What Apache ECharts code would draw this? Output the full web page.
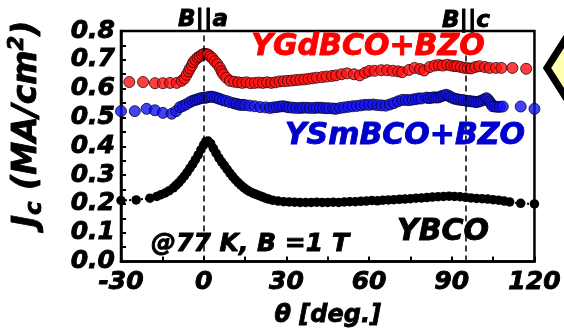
<!DOCTYPE html>
<html>
<head>
<meta charset="utf-8">
<script src="https://cdn.jsdelivr.net/npm/echarts@6/dist/echarts.min.js"></script>
<style>
  html, body { margin: 0; padding: 0; background: #fff; }
  #main { width: 564px; height: 333px; }
</style>
</head>
<body>
<div id="main"></div>
<script>
// angle (deg) and Jc (MA/cm2)
var thetaRed = [-27, -22, -17.7, -14.8, -12.2, -9.8, -8, -7, -6.2, -5.5, -5, -4.3, -3.8, -3, -2.2, -1.4, -0.6, 0.2, 1, 1.6,
    2.4, 3.2, 4, 5, 5.9, 6.5, 7.1, 8.2, 9.5, 11, 12.5, 14, 15.5, 17, 18.5, 20, 21.5, 23, 24.5, 26,
    27.5, 29, 30.5, 32, 33.5, 35, 36.5, 38, 39.5, 41, 43, 44.6, 46.5, 48, 50, 52, 54.5, 56.6, 58.5, 60,
    62, 64.4, 66.5, 68.6, 70.5, 72, 74.5, 76.5, 78.5, 80, 82, 83.8, 85.3, 86.7, 88.3, 89.8, 91, 92, 93.3, 94.6,
    95.8, 97, 98.5, 100, 102, 103.7, 106, 108, 112, 117];
var jcRed = [0.623, 0.623, 0.619, 0.619, 0.62, 0.62, 0.627, 0.635, 0.648, 0.66, 0.67, 0.68, 0.692, 0.70, 0.708, 0.712, 0.718, 0.721, 0.72, 0.718,
    0.712, 0.705, 0.695, 0.685, 0.672, 0.66, 0.65, 0.638, 0.627, 0.624, 0.622, 0.62, 0.622, 0.619, 0.62, 0.621, 0.62, 0.622, 0.62, 0.622,
    0.625, 0.626, 0.627, 0.628, 0.63, 0.631, 0.632, 0.634, 0.636, 0.638, 0.64, 0.642, 0.644, 0.646, 0.65, 0.653, 0.65, 0.646, 0.655, 0.661,
    0.662, 0.664, 0.664, 0.662, 0.66, 0.657, 0.665, 0.672, 0.668, 0.663, 0.675, 0.68, 0.682, 0.68, 0.683, 0.68, 0.678, 0.678, 0.675, 0.672,
    0.671, 0.67, 0.675, 0.678, 0.675, 0.672, 0.672, 0.672, 0.672, 0.669];

var thetaBlue = [-30, -25, -20.7, -17.7, -14.8, -11.6, -10, -8.6, -7.5, -6.3, -5, -4, -3, -2.2, -1.4, -0.5, 0.5, 1.3, 2.2, 3,
    4, 5, 5.9, 7, 8.2, 9.5, 11, 12, 13, 14, 15, 16.7, 18.5, 20.5, 22.5, 24, 25.3, 26.5, 27.7, 28.8,
    30, 31, 32.3, 33.6, 35, 36, 37.3, 38.5, 40, 41, 42.2, 43.3, 44.5, 45.5, 47, 48, 49.5, 51, 52.5, 54,
    55.5, 57, 58.5, 60, 61.5, 63, 64.5, 66, 67.5, 69, 70.5, 72, 73.3, 74.5, 75.8, 77, 78, 79, 80.8, 81.6,
    82.5, 83.5, 84.4, 85.3, 86.2, 87.1, 88, 88.9, 89.8, 90.7, 91.6, 92.5, 93.4, 94.3, 95.3, 96.2, 97, 98, 98.9, 99.8,
    100.7, 101.6, 102.5, 103.1, 103.7, 104.3, 104.8, 105.6, 106.5, 107.5, 108.5, 115, 120];
var jcBlue = [0.522, 0.522, 0.53, 0.525, 0.516, 0.513, 0.522, 0.536, 0.54, 0.546, 0.553, 0.558, 0.561, 0.563, 0.566, 0.568, 0.568, 0.57, 0.572, 0.572,
    0.57, 0.567, 0.564, 0.56, 0.557, 0.553, 0.549, 0.547, 0.544, 0.544, 0.543, 0.541, 0.539, 0.536, 0.535, 0.533, 0.535, 0.536, 0.538, 0.539,
    0.537, 0.535, 0.534, 0.533, 0.533, 0.534, 0.534, 0.533, 0.533, 0.534, 0.534, 0.533, 0.532, 0.532, 0.531, 0.53, 0.533, 0.535, 0.537, 0.539,
    0.54, 0.542, 0.544, 0.544, 0.545, 0.543, 0.542, 0.541, 0.545, 0.55, 0.556, 0.561, 0.561, 0.56, 0.562, 0.564, 0.566, 0.566, 0.569, 0.567,
    0.568, 0.57, 0.569, 0.57, 0.574, 0.576, 0.579, 0.575, 0.57, 0.566, 0.564, 0.562, 0.561, 0.56, 0.558, 0.557, 0.556, 0.555, 0.553, 0.555,
    0.558, 0.562, 0.567, 0.563, 0.555, 0.547, 0.539, 0.538, 0.537, 0.537, 0.538, 0.538, 0.53];

var thetaYbco = [-30, -24.5, -19.5, -17, -15.5, -14, -12.5, -11, -10, -9, -8, -7, -6, -5, -4, -3, -2, -1, 0, 0.8,
    1.6, 2.5, 3.5, 4.5, 5.5, 6.5, 7.5, 8.5, 9.5, 10.5, 11.5, 12.5, 13.5, 14.5, 15.5, 16.5, 17.5, 18.5, 19.5, 20.5,
    21.5, 22.5, 23.5, 25, 27, 29, 31, 33, 35, 37, 39, 41, 43, 45, 47, 49, 51, 53, 55, 57,
    59, 61, 63, 65, 67, 69, 71, 73, 75, 77, 79, 81, 83, 85, 87, 89, 91, 93, 95, 97,
    99, 101, 103, 105, 107, 109, 111, 115, 120];
var jcYbco = [0.212, 0.214, 0.22, 0.226, 0.232, 0.238, 0.246, 0.256, 0.265, 0.274, 0.285, 0.297, 0.31, 0.324, 0.338, 0.354, 0.37, 0.388, 0.405, 0.417,
    0.418, 0.41, 0.393, 0.376, 0.36, 0.346, 0.333, 0.32, 0.307, 0.295, 0.284, 0.274, 0.265, 0.257, 0.25, 0.244, 0.239, 0.235, 0.231, 0.228,
    0.224, 0.22, 0.217, 0.213, 0.21, 0.208, 0.207, 0.206, 0.205, 0.205, 0.205, 0.206, 0.205, 0.205, 0.206, 0.205, 0.207, 0.208, 0.208, 0.209,
    0.21, 0.212, 0.211, 0.213, 0.214, 0.215, 0.216, 0.217, 0.218, 0.22, 0.221, 0.222, 0.224, 0.225, 0.226, 0.227, 0.226, 0.225, 0.223, 0.221,
    0.219, 0.218, 0.217, 0.215, 0.213, 0.21, 0.207, 0.202, 0.2];

var fieldLines = [0, 95];   // B||a and B||c

function pairs(xs, ys) {
    return xs.map(function (x, i) { return [x, ys[i]]; });
}

var font = 'DejaVu Sans';
// a thin outline in the text colour makes the bold face look heavier, closer to the original
function label(text, x, y, size, color) {
    var c = color || '#000';
    return {
        type: 'text', x: x, y: y, z: 10,
        style: {
            text: text, fill: c, stroke: c, lineWidth: 0.9,
            font: 'italic bold ' + size + 'px "' + font + '"',
            textAlign: 'center', textVerticalAlign: 'middle',
            align: 'center', verticalAlign: 'middle'
        }
    };
}
function rich(size, lh, va) {
    var s = { fontFamily: font, fontWeight: 'bold', fontStyle: 'italic', fontSize: size, lineHeight: lh };
    if (va) s.verticalAlign = va;
    return s;
}
var tickFont = {
    fontFamily: font, fontWeight: 'bold', fontStyle: 'italic', fontSize: 25, color: '#000',
    textBorderColor: '#000', textBorderWidth: 0.9
};

var chart = echarts.init(document.getElementById('main'), null, { renderer: 'canvas' });

var option = {
    animation: false,
    backgroundColor: '#fff',
    grid: {
        left: 121, right: 29, top: 31, bottom: 68,
        show: true, borderColor: '#000', borderWidth: 2.5, backgroundColor: 'transparent'
    },
    xAxis: {
        type: 'value', min: -30, max: 120, interval: 30,
        name: 'θ [deg.]', nameLocation: 'middle', nameGap: 42,
        nameTextStyle: { fontFamily: font, fontWeight: 'bold', fontStyle: 'italic', fontSize: 24, color: '#000', textBorderColor: '#000', textBorderWidth: 0.8 },
        axisLine: { onZero: false, lineStyle: { color: '#000', width: 2.5 } },
        axisTick: { inside: true, length: 5, lineStyle: { color: '#000', width: 2 } },
        minorTick: { show: true, splitNumber: 2, length: 5, lineStyle: { color: '#000', width: 2 } },
        splitLine: { show: false },
        axisLabel: Object.assign({ margin: 8, showMinLabel: true, showMaxLabel: true }, tickFont)
    },
    yAxis: {
        type: 'value', min: 0, max: 0.8, interval: 0.1,
        axisLine: { onZero: false, lineStyle: { color: '#000', width: 2.5 } },
        axisTick: { inside: true, length: 5, lineStyle: { color: '#000', width: 2 } },
        minorTick: { show: true, splitNumber: 2, length: 5, lineStyle: { color: '#000', width: 2 } },
        splitLine: { show: false },
        axisLabel: Object.assign({
            margin: 6,
            formatter: function (v) { return v.toFixed(1); }
        }, tickFont)
    },
    series: [
        {
            name: 'YBCO', type: 'line', data: pairs(thetaYbco, jcYbco),
            symbol: 'circle', symbolSize: 9.5,
            itemStyle: { color: '#000' },
            lineStyle: { color: '#000', width: 2, type: 'dotted' },
            markLine: {
                silent: true, symbol: 'none', label: { show: false },
                lineStyle: { color: '#000', width: 1.5, type: [6, 4] },
                data: fieldLines.map(function (v) { return { xAxis: v }; })
            }
        },
        {
            name: 'YSmBCO+BZO', type: 'scatter', data: pairs(thetaBlue, jcBlue),
            symbol: 'circle', symbolSize: 11,
            itemStyle: { color: '#1414f0', borderColor: '#000033', borderWidth: 1 }
        },
        {
            name: 'YGdBCO+BZO', type: 'scatter', data: pairs(thetaRed, jcRed),
            symbol: 'circle', symbolSize: 11,
            itemStyle: { color: '#ff1010', borderColor: '#330000', borderWidth: 1 }
        }
    ],
    graphic: [
        label('B||a', 203, 20, 23),
        label('B||c', 466, 21, 23),
        label('YGdBCO+BZO', 368, 47, 30, '#ff0000'),
        label('YSmBCO+BZO', 405, 136, 30, '#0000cc'),
        label('YBCO', 443, 232, 30),
        label('@77 K, B =1 T', 250, 244, 25),
        {
            type: 'text', x: 27, y: 124, rotation: Math.PI / 2, z: 10,
            style: {
                text: '{j|J}{c|c}{t| (MA/cm}{s|2}{t|)}',
                fill: '#000', stroke: '#000', lineWidth: 0.9,
                font: 'italic bold 33px "' + font + '"',
                textAlign: 'center', textVerticalAlign: 'middle',
                align: 'center', verticalAlign: 'middle',
                rich: {
                    j: rich(33, 40),
                    c: rich(23, 26, 'bottom'),
                    t: rich(33, 40),
                    s: rich(21, 26, 'top')
                }
            }
        },
        {
            type: 'polygon', z: 5,
            shape: { points: [[547, 68], [600, -15], [653, 68], [600, 151]] },
            style: { fill: '#ffffb0', stroke: '#000', lineWidth: 7 }
        }
    ]
};

chart.setOption(option);
</script>
</body>
</html>
